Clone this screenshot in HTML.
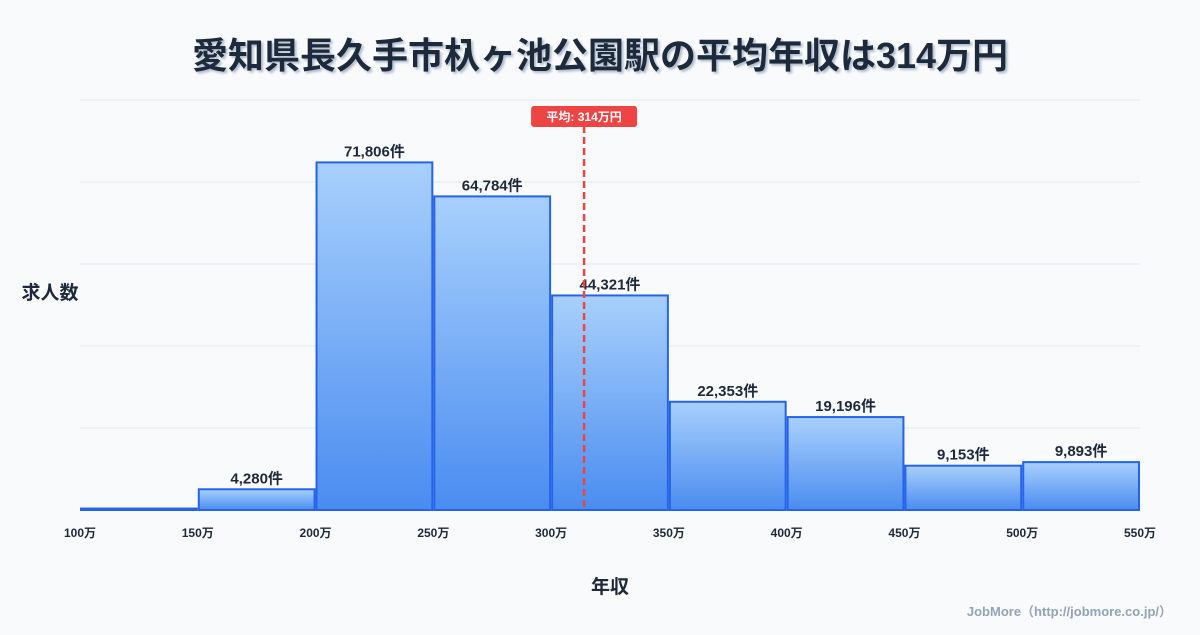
<!DOCTYPE html>
<html><head><meta charset="utf-8">
<style>
body{margin:0;width:1200px;height:630px;background:#f8fafc;font-family:"Liberation Sans","Noto Sans CJK JP",sans-serif;overflow:hidden}
svg text{font-family:"Liberation Sans","Noto Sans CJK JP",sans-serif}
</style></head>
<body>
<svg width="1200" height="630">
<defs>
<linearGradient id="g" x1="0" y1="0" x2="0" y2="1">
<stop offset="0" stop-color="#a8d0fc"/><stop offset="1" stop-color="#4a8cf0"/>
</linearGradient>
<filter id="sh"><feDropShadow dx="2" dy="2" stdDeviation="1" flood-color="#94a3b8" flood-opacity="0.7"/></filter>
</defs>
<text x="600" y="68" text-anchor="middle" font-size="36" font-weight="bold" fill="#1e293b" filter="url(#sh)">愛知県長久手市杁ヶ池公園駅の平均年収は314万円</text>
<g id="grid"></g>
<g id="bars"></g>
<g id="xt"></g>
<text x="50" y="299" text-anchor="middle" font-size="19" font-weight="bold" fill="#1e293b">求人数</text>
<text x="610" y="593" text-anchor="middle" font-size="19" font-weight="bold" fill="#1e293b">年収</text>
<text x="1172" y="616" text-anchor="end" font-size="13" font-weight="bold" fill="#94a3b8">JobMore（http://jobmore.co.jp/）</text>
<g id="mean"></g>
</svg>
<script>
const binStarts=[100,150,200,250,300,350,400,450,500];
const counts=[300,4280,71806,64784,44321,22353,19196,9153,9893];
const countLabels=["","4,280件","71,806件","64,784件","44,321件","22,353件","19,196件","9,153件","9,893件"];
const xTicks=[100,150,200,250,300,350,400,450,500,550];
const meanValue=314;
const NS="http://www.w3.org/2000/svg";
const x0=80,x1=1140,base=510,yTop=100,yMax=84700;
const X=v=>x0+(v-100)/450*(x1-x0);
const Y=v=>base-v/yMax*(base-yTop);
function el(t,a,p){const e=document.createElementNS(NS,t);for(const k in a)e.setAttribute(k,a[k]);p.appendChild(e);return e;}
const grid=document.getElementById('grid');
for(let i=0;i<=5;i++){const y=yTop+i*82;const l=el('line',{x1:x0,x2:x1,y1:y,y2:y,stroke:i==5?'#cbd5e1':'#e2e8f0','stroke-width':1},grid);

}
const bars=document.getElementById('bars');
binStarts.forEach((b,i)=>{const xa=X(b)+1,xb=X(b+50)-1,y=Y(counts[i]);
const r=el('rect',{x:xa,y:y,width:xb-xa,height:base-y,fill:'url(#g)',stroke:'#2563eb','stroke-width':2},bars);


if(countLabels[i]){const t=el('text',{x:(xa+xb)/2,y:y-6,'text-anchor':'middle','font-size':15,'font-weight':'bold',fill:'#1e293b'},bars);t.textContent=countLabels[i];

}
});
const xt=document.getElementById('xt');
xTicks.forEach(v=>{const t=el('text',{x:X(v),y:537,'text-anchor':'middle','font-size':12,'font-weight':'bold',fill:'#1e293b'},xt);t.textContent=v+'万';

});
const m=document.getElementById('mean');const mx=X(meanValue);
const ml=el('line',{x1:mx,x2:mx,y1:126,y2:base,stroke:'#ef4444','stroke-width':2.5,'stroke-dasharray':'7,4'},m);


const mb=el('rect',{x:mx-53,y:106,width:106,height:21,rx:3,fill:'#ef4444'},m);


const mt=el('text',{x:mx,y:121,'text-anchor':'middle','font-size':12,'font-weight':'bold',fill:'#fff'},m);mt.textContent='平均: '+meanValue+'万円';


</script>
</body></html>
